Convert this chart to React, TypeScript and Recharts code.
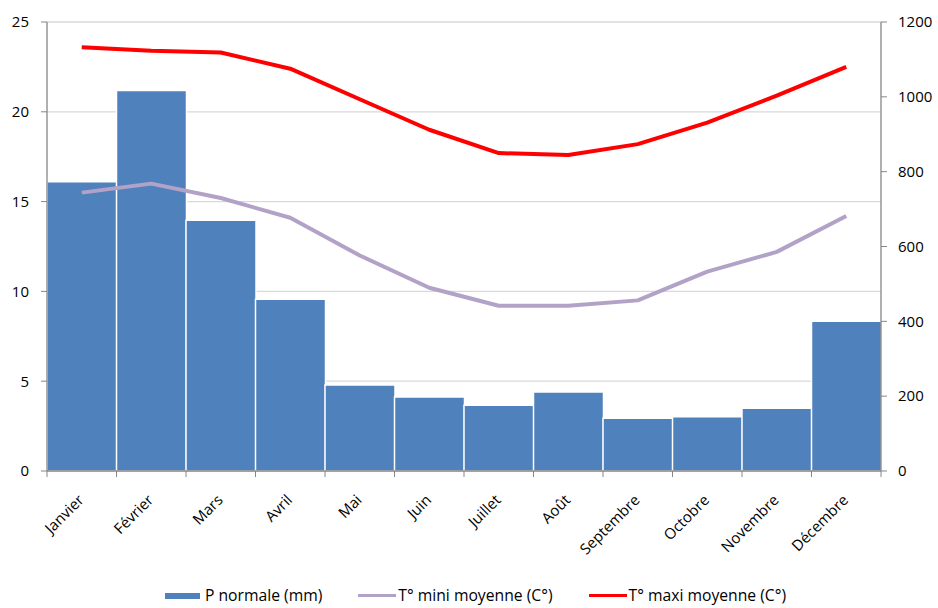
import { Bar, CartesianGrid, ComposedChart, Line, XAxis, YAxis } from "recharts";

const WIDTH = 938;
const HEIGHT = 608;
const FONT = "'Open Sans', sans-serif";
const FONT_SIZE = 15;
const LEGEND_FONT_SIZE = 15.7;
const AXIS_GREY = "#868686";
const GRID_GREY = "#D9D9D9";
const LEFT_AXIS_WIDTH = 47;
const RIGHT_AXIS_WIDTH = 57;
const TOP = 22;
const X_AXIS_HEIGHT = 137;

const months = [
  "Janvier",
  "Février",
  "Mars",
  "Avril",
  "Mai",
  "Juin",
  "Juillet",
  "Août",
  "Septembre",
  "Octobre",
  "Novembre",
  "Décembre",
];
const precipitation = [773, 1017, 670, 459, 230, 198, 176, 211, 141, 145, 168, 400];
const tempMin = [15.5, 16.0, 15.2, 14.1, 12.0, 10.2, 9.2, 9.2, 9.5, 11.1, 12.2, 14.2];
const tempMax = [23.6, 23.4, 23.3, 22.4, 20.7, 19.0, 17.7, 17.6, 18.2, 19.4, 20.9, 22.5];
const tempTicks = [0, 5, 10, 15, 20, 25];
const rainTicks = [0, 200, 400, 600, 800, 1000, 1200];

const series = [
  { key: "p", name: "P normale (mm)", color: "#4F81BD", kind: "bar" },
  { key: "tmin", name: "T° mini moyenne (C°)", color: "#B3A2C7", kind: "line" },
  { key: "tmax", name: "T° maxi moyenne (C°)", color: "#FF0000", kind: "line" },
];

const data = months.map((month, i) => ({
  month,
  p: precipitation[i],
  tmin: tempMin[i],
  tmax: tempMax[i],
}));

const halfBand = (WIDTH - LEFT_AXIS_WIDTH - RIGHT_AXIS_WIDTH) / months.length / 2;

// month label rotated 45°, plus Excel-style ticks on the category edges
function MonthTick(props: any) {
  const { x, y, payload, index } = props;
  const lx = x + 3;
  const ly = y + 30;
  return (
    <g>
      <line x1={x - halfBand} x2={x - halfBand} y1={y} y2={y + 6} stroke={AXIS_GREY} />
      {index === months.length - 1 && (
        <line x1={x + halfBand} x2={x + halfBand} y1={y} y2={y + 6} stroke={AXIS_GREY} />
      )}
      <text
        x={lx}
        y={ly}
        textAnchor="end"
        fill="#000"
        fontSize={FONT_SIZE}
        fontFamily={FONT}
        transform={`rotate(-45, ${lx}, ${ly})`}
      >
        {payload.value}
      </text>
    </g>
  );
}

function LegendRow() {
  return (
    <div
      style={{
        position: "absolute",
        left: 0,
        top: 585,
        width: WIDTH,
        paddingLeft: 13,
        boxSizing: "border-box",
        display: "flex",
        justifyContent: "center",
        gap: 36,
        fontFamily: FONT,
        fontSize: LEGEND_FONT_SIZE,
        lineHeight: "21px",
        color: "#000",
        whiteSpace: "nowrap",
      }}
    >
      {series.map((s) => (
        <div
          key={s.key}
          style={{ display: "flex", alignItems: "center", gap: s.kind === "bar" ? 5 : 2 }}
        >
          <span
            style={{
              display: "inline-block",
              width: s.kind === "bar" ? 35 : 38,
              height: s.kind === "bar" ? 6 : 3,
              background: s.color,
            }}
          />
          <span>{s.name}</span>
        </div>
      ))}
    </div>
  );
}

export default function App() {
  return (
    <div style={{ position: "absolute", left: 0, top: 0, width: WIDTH, height: HEIGHT, background: "#fff" }}>
      <ComposedChart
        width={WIDTH}
        height={HEIGHT}
        data={data}
        margin={{ top: TOP, right: 0, bottom: 0, left: 0 }}
        barCategoryGap={0}
        barGap={0}
      >
        <CartesianGrid yAxisId="temp" vertical={false} stroke={GRID_GREY} strokeWidth={1.3} />
        <XAxis
          dataKey="month"
          interval={0}
          height={X_AXIS_HEIGHT}
          tickLine={false}
          tickSize={0}
          tickMargin={0}
          axisLine={{ stroke: AXIS_GREY, strokeWidth: 1.3 }}
          tick={<MonthTick />}
        />
        <YAxis
          yAxisId="temp"
          orientation="left"
          width={LEFT_AXIS_WIDTH}
          domain={[0, 25]}
          ticks={tempTicks}
          interval={0}
          tickSize={6}
          tickMargin={12}
          axisLine={{ stroke: AXIS_GREY, strokeWidth: 1.3 }}
          tickLine={{ stroke: AXIS_GREY }}
          tick={{ fill: "#000", fontSize: FONT_SIZE, fontFamily: FONT }}
        />
        <YAxis
          yAxisId="rain"
          orientation="right"
          width={RIGHT_AXIS_WIDTH}
          domain={[0, 1200]}
          ticks={rainTicks}
          interval={0}
          tickSize={6}
          tickMargin={11}
          axisLine={{ stroke: AXIS_GREY, strokeWidth: 1.3 }}
          tickLine={{ stroke: AXIS_GREY }}
          tick={{ fill: "#000", fontSize: FONT_SIZE, fontFamily: FONT, textAnchor: "start" }}
        />
        <Bar
          yAxisId="rain"
          dataKey="p"
          name={series[0].name}
          fill={series[0].color}
          stroke="#fff"
          strokeWidth={1.5}
          isAnimationActive={false}
        />
        <Line
          yAxisId="temp"
          type="linear"
          dataKey="tmin"
          name={series[1].name}
          stroke={series[1].color}
          strokeWidth={4}
          strokeLinejoin="round"
          dot={false}
          activeDot={false}
          isAnimationActive={false}
        />
        <Line
          yAxisId="temp"
          type="linear"
          dataKey="tmax"
          name={series[2].name}
          stroke={series[2].color}
          strokeWidth={4}
          strokeLinejoin="round"
          dot={false}
          activeDot={false}
          isAnimationActive={false}
        />
      </ComposedChart>
      <LegendRow />
    </div>
  );
}
